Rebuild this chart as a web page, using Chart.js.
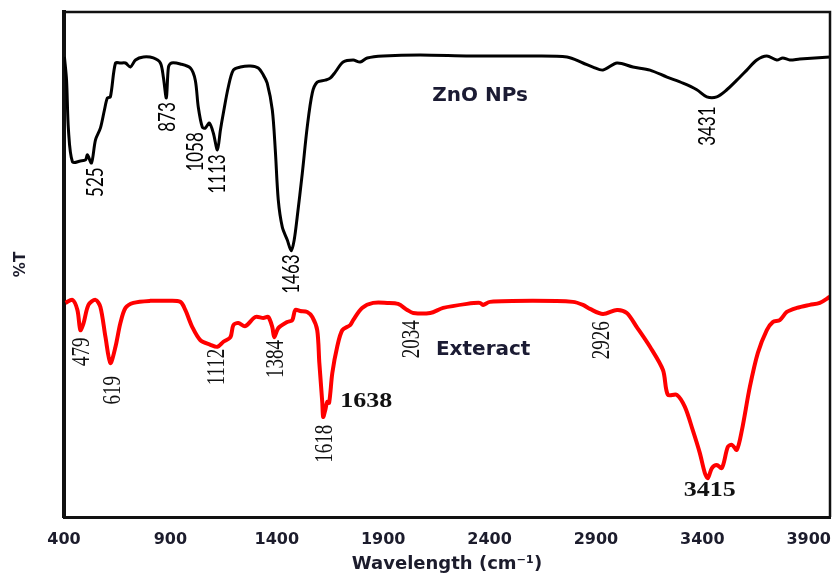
<!DOCTYPE html>
<html>
<head>
<meta charset="utf-8">
<script src="https://cdn.jsdelivr.net/npm/chart.js@4.4.1/dist/chart.umd.min.js"></script>
<style>
  html, body { margin: 0; padding: 0; background: #fff; }
  #ftir { display: block; }
</style>
</head>
<body>
<canvas id="ftir" width="833" height="575"></canvas>
<script>
// tick labels on the wavenumber axis
var xTicks = [400, 900, 1400, 1900, 2400, 2900, 3400, 3900];

// ZnO NPs spectrum (black)
var znoWave = [402, 412, 421, 440, 477, 501, 510, 529, 548, 571, 590, 604, 618, 642, 665, 689, 712, 736, 773, 820,
  853, 867, 881, 891, 905, 947, 994, 1017, 1031, 1050, 1064, 1083, 1102, 1121, 1135, 1149, 1172, 1196, 1229, 1276,
  1313, 1337, 1355, 1379, 1393, 1407, 1426, 1449, 1468, 1482, 1496, 1520, 1543, 1567, 1590, 1628, 1651, 1675, 1712, 1759,
  1792, 1825, 1900, 2074, 2308, 2590, 2764, 2839, 2886, 2933, 2999, 3074, 3154, 3234, 3309, 3374, 3421, 3468, 3515, 3562,
  3609, 3656, 3703, 3750, 3778, 3811, 3858, 3999];
var znoT = [91.1, 86.5, 76.6, 70.3, 70.5, 70.7, 71.7, 70.1, 74.7, 77.0, 80.6, 83.0, 83.2, 89.9, 89.9, 89.9, 89.1, 90.5, 91.1, 90.9,
  89.9, 87.1, 83.0, 89.1, 89.9, 89.7, 88.9, 86.5, 81.2, 77.2, 77.0, 78.0, 76.0, 72.7, 76.6, 80.0, 85.1, 88.5, 89.1, 89.3,
  88.9, 87.5, 85.9, 80.6, 72.7, 62.8, 57.4, 54.9, 52.7, 54.9, 59.4, 68.1, 77.2, 84.0, 86.1, 86.5, 86.9, 88.1, 90.1, 90.5,
  90.1, 90.9, 91.3, 91.5, 91.3, 91.3, 91.1, 89.9, 89.1, 88.5, 89.9, 89.1, 88.5, 87.1, 85.9, 84.6, 83.2, 83.2, 84.6, 86.5,
  88.5, 90.5, 91.3, 90.5, 90.9, 90.5, 90.7, 91.1];

// plant extract spectrum (red)
var extWave = [407, 440, 463, 477, 492, 515, 548, 571, 595, 618, 642, 665, 689, 726, 806, 886, 947, 970, 1003, 1041,
  1088, 1121, 1149, 1182, 1196, 1219, 1252, 1299, 1337, 1360, 1379, 1388, 1407, 1449, 1473, 1487, 1510, 1543, 1567, 1590,
  1600, 1614, 1618, 1628, 1637, 1646, 1661, 1684, 1708, 1745, 1759, 1801, 1853, 1919, 1970, 2013, 2041, 2121, 2182, 2294,
  2355, 2369, 2402, 2604, 2792, 2839, 2872, 2933, 2999, 3045, 3092, 3154, 3215, 3238, 3280, 3318, 3355, 3388, 3412, 3426,
  3445, 3468, 3492, 3520, 3539, 3562, 3586, 3623, 3661, 3703, 3731, 3764, 3797, 3844, 3905, 3952, 3999];
var extT = [42.4, 43.0, 41.0, 37.0, 38.4, 42.0, 43.0, 41.6, 35.6, 30.5, 33.7, 38.4, 41.4, 42.4, 42.8, 42.8, 42.6, 41.0, 37.6, 35.0,
  34.1, 33.7, 34.7, 35.6, 38.0, 38.4, 37.8, 39.6, 39.4, 39.6, 37.6, 35.6, 37.4, 38.6, 39.0, 41.0, 40.8, 40.6, 39.6, 37.0,
  30.5, 22.6, 19.8, 21.2, 22.8, 22.6, 28.5, 33.7, 37.0, 38.0, 39.0, 41.4, 42.4, 42.4, 42.2, 41.0, 40.4, 40.4, 41.4, 42.2,
  42.4, 42.0, 42.6, 42.8, 42.6, 42.0, 41.2, 40.2, 41.0, 40.4, 37.6, 33.7, 29.1, 24.2, 24.2, 21.8, 17.2, 12.7, 8.7, 7.7,
  9.7, 10.3, 9.7, 13.9, 14.3, 13.3, 17.2, 25.7, 32.5, 37.0, 38.6, 39.0, 40.6, 41.4, 42.0, 42.4, 43.6];

// peak labels, placed in data units
var peaks = [
  { text: '525', wave: 548, t: 66.3, kind: 'zno' },
  { text: '873', wave: 886, t: 79.2, kind: 'zno' },
  { text: '1058', wave: 1022, t: 72.3, kind: 'zno' },
  { text: '1113', wave: 1125, t: 67.9, kind: 'zno' },
  { text: '1463', wave: 1473, t: 48.1, kind: 'zno' },
  { text: '3431', wave: 3425, t: 77.4, kind: 'zno' },
  { text: 'ZnO NPs', wave: 2356, t: 83.4, kind: 'name' },
  { text: '479', wave: 487, t: 32.7, kind: 'ext' },
  { text: '619', wave: 632, t: 25.1, kind: 'ext' },
  { text: '1112', wave: 1121, t: 29.7, kind: 'ext' },
  { text: '1384', wave: 1398, t: 31.3, kind: 'ext' },
  { text: '1618', wave: 1628, t: 14.5, kind: 'ext' },
  { text: '2034', wave: 2036, t: 35.2, kind: 'ext' },
  { text: '2926', wave: 2928, t: 35.0, kind: 'ext' },
  { text: 'Exteract', wave: 2370, t: 33.1, kind: 'name' },
  { text: '1638', wave: 1820, t: 22.8, kind: 'big' },
  { text: '3415', wave: 3435, t: 5.1, kind: 'big' }
];

var labelStyles = {
  zno: { font: '17px Lato', color: '#000', rotate: true, sx: 1, sy: 1.3 },
  ext: { font: '19px "Liberation Serif"', color: '#111', rotate: true, sx: 1, sy: 1.35 },
  big: { font: 'bold 20px "Liberation Serif"', color: '#111', rotate: false, sx: 1.3, sy: 1 },
  name: { font: 'bold 20px "DejaVu Sans"', color: '#1b1b33', rotate: false, sx: 1, sy: 1 }
};

function toPoints(xs, ys) {
  return xs.map(function (x, i) { return { x: x, y: ys[i] }; });
}

// top/right frame and the peak annotations
var framePlugin = {
  id: 'frameAndPeaks',
  afterDatasetsDraw: function (chart) {
    var ctx = chart.ctx;
    var a = chart.chartArea;
    var sx = chart.scales.x, sy = chart.scales.y;
    ctx.save();
    ctx.strokeStyle = '#111';
    ctx.lineWidth = 2.5;
    ctx.beginPath();
    ctx.moveTo(a.left, a.top);
    ctx.lineTo(a.right, a.top);
    ctx.lineTo(a.right, a.bottom);
    ctx.stroke();

    ctx.textAlign = 'center';
    ctx.textBaseline = 'middle';
    peaks.forEach(function (p) {
      var st = labelStyles[p.kind];
      ctx.save();
      ctx.translate(sx.getPixelForValue(p.wave), sy.getPixelForValue(p.t));
      if (st.rotate) ctx.rotate(-Math.PI / 2);
      ctx.scale(st.sx, st.sy);
      ctx.font = st.font;
      ctx.fillStyle = st.color;
      ctx.fillText(p.text, 0, 0);
      ctx.restore();
    });
    ctx.restore();
  }
};

var axisColor = '#1c1c2c';

new Chart(document.getElementById('ftir'), {
  type: 'line',
  data: {
    datasets: [{
      label: 'ZnO NPs',
      data: toPoints(znoWave, znoT),
      borderColor: '#000',
      borderWidth: 3,
      pointRadius: 0,
      tension: 0.3
    }, {
      label: 'Exteract',
      data: toPoints(extWave, extT),
      borderColor: '#ff0000',
      borderWidth: 4,
      pointRadius: 0,
      tension: 0.3
    }]
  },
  options: {
    responsive: false,
    devicePixelRatio: 1,
    animation: false,
    layout: { padding: { top: 12, right: 3, left: 0, bottom: 0 } },
    plugins: {
      legend: { display: false },
      tooltip: { enabled: false }
    },
    scales: {
      x: {
        type: 'linear',
        min: 400,
        max: 4000,
        afterBuildTicks: function (scale) {
          scale.ticks = xTicks.map(function (v) { return { value: v }; });
        },
        afterFit: function (scale) {
          scale.height = 58;
          scale.paddingLeft = 0;
          scale.paddingRight = 0;
        },
        grid: { display: false, drawTicks: false },
        border: { display: true, color: '#111', width: 3 },
        ticks: {
          padding: 13,
          autoSkip: false,
          maxRotation: 0,
          color: axisColor,
          font: { family: 'DejaVu Sans', weight: 'bold', size: 16 },
          callback: function (v) { return String(v); }
        },
        title: {
          display: true,
          text: 'Wavelength (cm⁻¹)',
          color: axisColor,
          font: { family: 'DejaVu Sans', weight: 'bold', size: 18 },
          padding: { top: 0, bottom: 0 }
        }
      },
      y: {
        min: 0,
        max: 100,
        afterFit: function (scale) {
          scale.width = 64;
          scale.paddingTop = 0;
          scale.paddingBottom = 0;
        },
        grid: { display: false, drawTicks: false },
        border: { display: true, color: '#111', width: 4 },
        ticks: { display: false },
        title: {
          display: true,
          text: '%T',
          color: axisColor,
          font: { family: 'DejaVu Sans', weight: 'bold', size: 15 },
          padding: { top: 12, bottom: 0 }
        }
      }
    }
  },
  plugins: [framePlugin]
});
</script>
</body>
</html>
